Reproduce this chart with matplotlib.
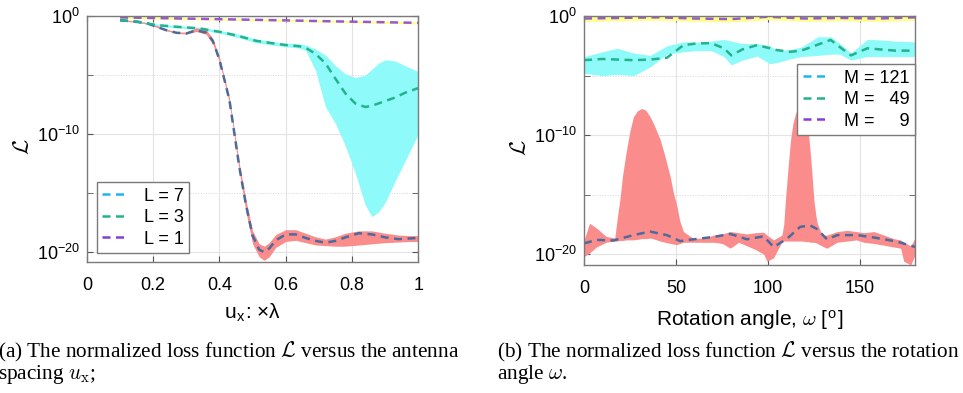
import numpy as np
import matplotlib
matplotlib.use('Agg')
import matplotlib.pyplot as plt
from matplotlib.lines import Line2D
from matplotlib.ticker import FixedLocator, FixedFormatter, NullFormatter

plt.rcParams['font.family'] = ['Liberation Sans', 'DejaVu Sans']
plt.rcParams['mathtext.fontset'] = 'cm'

# ---- (a) loss vs antenna spacing, values are log10(L)
u_L1 = [0.10, 0.20, 0.30, 0.40, 0.50, 0.60, 0.70, 0.80, 0.90, 1.00]
L1_med = [-0.11, -0.16, -0.21, -0.26, -0.31, -0.36, -0.42, -0.47, -0.52, -0.57]
L1_up = [-0.02, -0.06, -0.11, -0.16, -0.21, -0.26, -0.32, -0.37, -0.42, -0.47]
L1_lo = [-0.20, -0.25, -0.30, -0.35, -0.40, -0.45, -0.51, -0.56, -0.61, -0.66]

u_L3 = [0.10, 0.15, 0.21, 0.27, 0.34, 0.41, 0.46, 0.51, 0.56, 0.60, 0.64, 0.66, 0.69,
        0.72, 0.75, 0.78, 0.81, 0.84, 0.86, 0.88, 0.90, 0.93, 0.96, 1.00]
L3_med = [-0.35, -0.45, -0.76, -0.90, -1.04, -1.38, -1.70, -2.09, -2.30, -2.45, -2.55, -2.68, -3.20,
          -4.00, -5.30, -6.55, -7.40, -7.70, -7.60, -7.40, -7.20, -6.90, -6.50, -6.10]
L3_up = [-0.30, -0.38, -0.66, -0.80, -0.95, -1.25, -1.55, -1.95, -2.15, -2.30, -2.35, -2.45, -2.80,
         -3.30, -4.20, -4.90, -5.20, -5.00, -4.50, -4.00, -3.70, -3.80, -4.20, -4.70]
L3_lo = [-0.40, -0.52, -0.86, -1.00, -1.14, -1.50, -1.85, -2.25, -2.45, -2.60, -2.70, -2.90, -4.60,
         -7.70, -9.10, -11.0, -13.3, -16.0, -17.0, -16.6, -15.8, -14.0, -12.3, -10.0]

u_L7 = [0.10, 0.14, 0.18, 0.21, 0.24, 0.27, 0.30, 0.33, 0.36, 0.38, 0.40, 0.43, 0.46, 0.48, 0.50, 0.52,
        0.535, 0.55, 0.57, 0.60, 0.63, 0.66, 0.69, 0.72, 0.75, 0.78, 0.82, 0.86, 0.90, 0.94, 0.97, 1.00]
L7_med = [-0.35, -0.45, -0.60, -0.90, -1.20, -1.41, -1.47, -1.20, -1.40, -2.10, -3.70, -7.10, -12.8, -16.0,
          -18.6, -19.8, -20.0, -19.7, -19.0, -18.5, -18.5, -18.8, -19.05, -19.2, -19.05, -18.75, -18.4,
          -18.5, -18.75, -18.9, -18.85, -18.8]
L7_up = [-0.30, -0.40, -0.55, -0.80, -1.10, -1.35, -1.35, -1.00, -1.15, -1.90, -3.50, -6.90, -12.5, -15.6,
         -18.2, -19.3, -19.5, -19.2, -18.5, -18.1, -18.1, -18.4, -18.7, -18.9, -18.7, -18.4, -18.2,
         -18.2, -18.4, -18.55, -18.6, -18.6]
L7_lo = [-0.40, -0.50, -0.65, -0.95, -1.25, -1.45, -1.52, -1.30, -1.55, -2.40, -3.90, -7.40, -13.2, -16.6,
         -19.3, -20.4, -20.7, -20.4, -19.6, -19.1, -19.0, -19.2, -19.4, -19.45, -19.5, -19.5, -19.4,
         -19.3, -19.2, -19.15, -19.1, -19.1]

# ---- (b) loss vs rotation angle
w_M9 = [0, 20, 40, 60, 80, 100, 120, 140, 160, 180]
M9_med = [-0.20, -0.15, -0.10, -0.20, -0.25, -0.05, -0.20, -0.15, -0.20, -0.10]
M9_up = [0.0, 0.0, 0.0, 0.0, -0.05, 0.0, 0.0, 0.0, 0.0, 0.0]
M9_lo = [-0.45, -0.40, -0.35, -0.45, -0.50, -0.30, -0.45, -0.40, -0.45, -0.35]

w_M49 = [0, 10, 18, 27, 36, 45, 54, 61, 69, 76, 80, 86, 94, 101, 105, 112, 118, 127, 134,
         139, 145, 154, 161, 169, 180]
M49_med = [-3.70, -3.60, -3.65, -3.70, -3.65, -3.50, -2.44, -2.30, -2.27, -2.70, -3.30, -2.80, -2.44,
           -2.70, -2.86, -3.00, -2.90, -2.40, -2.00, -2.60, -3.30, -2.70, -2.80, -2.90, -2.90]
M49_up = [-3.40, -3.00, -2.70, -3.10, -3.30, -2.50, -2.16, -2.20, -2.10, -1.96, -2.10, -2.30, -2.30,
          -2.50, -2.90, -2.80, -2.60, -1.74, -1.74, -2.30, -3.10, -1.96, -2.00, -2.10, -2.16]
M49_lo = [-4.80, -5.00, -4.90, -5.00, -4.26, -3.20, -3.00, -2.90, -2.90, -3.40, -4.10, -3.70, -3.36,
          -4.00, -3.90, -3.60, -3.40, -3.30, -3.20, -3.20, -3.70, -3.40, -3.40, -3.40, -3.40]

w_M121 = [0, 6.7, 15.9, 26.8, 35.9, 45, 52.2, 59.5, 70.4, 79.5, 88.5, 97.6, 103, 110.3, 117.5,
          123, 126.7, 132, 137.5, 148.4, 157.5, 170.2, 180]
M121_med = [-19.1, -18.8, -18.85, -18.4, -18.1, -18.4, -18.9, -18.75, -18.55, -18.3, -18.75, -18.5,
            -19.4, -18.7, -17.7, -17.6, -17.9, -18.75, -18.4, -18.4, -18.6, -18.95, -19.4]
w_M121b = [0, 3, 6.7, 12, 16.7, 18, 19.4, 21, 23, 25, 26.8, 29, 31.3, 33.5, 35.9, 38.5, 41.4, 44,
           46.8, 48.5, 50.5, 52, 54, 59.5, 66, 70.4, 75, 79.5, 84, 88.5, 93, 97.6, 99.4, 103, 107.5,
           108.5, 109.4, 110.8, 112.2, 113.5, 114.9, 116.2, 117.3, 118.8, 120.4, 121.8, 123.1, 124,
           124.9, 126, 126.7, 128.5, 130.4, 132, 137.5, 143, 148, 152, 157.5, 164.8, 168.4, 172,
           173.7, 177.5, 180]
M121_up = [-18.8, -17.4, -17.8, -18.5, -18.65, -17.0, -15.5, -13.3, -11.3, -9.6, -8.46, -7.95, -7.76,
           -7.9, -8.46, -9.3, -10.4, -11.8, -13.5, -14.8, -16.0, -17.2, -18.1, -18.7, -18.6, -18.4,
           -18.3, -18.1, -18.2, -18.3, -18.2, -18.15, -18.4, -18.8, -18.4, -17.5, -15.5, -12.8, -10.4,
           -9.0, -8.2, -7.7, -7.56, -7.8, -8.2, -9.6, -11.8, -13.6, -15.5, -16.8, -17.4, -18.1, -18.4,
           -18.4, -18.1, -18.0, -18.1, -18.2, -18.1, -18.5, -18.7, -18.8, -19.0, -19.3, -18.6]
M121_lo = [-20.2, -19.9, -19.4, -19.0, -18.9, -18.9, -18.85, -18.85, -18.8, -18.8, -18.8, -18.75, -18.7,
           -18.7, -18.65, -18.75, -18.9, -19.0, -19.1, -19.15, -19.2, -19.1, -19.0, -19.0, -19.0, -19.0,
           -19.1, -19.5, -19.0, -19.3, -19.6, -20.0, -20.6, -20.3, -18.95, -18.9, -18.9, -18.9, -18.9,
           -18.9, -18.9, -18.9, -18.9, -18.9, -18.95, -18.95, -19.0, -19.0, -19.0, -19.05, -19.1,
           -19.25, -19.4, -19.5, -19.0, -18.9, -18.8, -19.0, -19.1, -19.3, -19.4, -19.5, -20.6, -20.9,
           -20.0]

labels_a = ['L = 7', 'L = 3', 'L = 1']
labels_b = ['M = 121', 'M =   49', 'M =     9']

c_red, c_cyan, c_yel = '#fb8c8c', '#8ffafa', '#ffff8c'
c_blue_line, c_blue_leg = '#4d6a9c', '#1fb5f0'
c_green, c_purple = '#22b38a', '#8a3ad8'
fs = 13
fs_lab = 15
dash = (3.2, 2.2)


def p(v):
    return 10.0 ** np.asarray(v)


def style(ax, xlim, ylow, xticks, xticklabels):
    ax.set_yscale('log')
    ax.set_xlim(*xlim)
    ax.set_ylim(10.0 ** ylow, 1.0)
    ax.yaxis.set_major_locator(FixedLocator([1e-20, 1e-10, 1e0]))
    ax.yaxis.set_major_formatter(FixedFormatter([r'$\mathregular{10^{-20}}$',
                                                 r'$\mathregular{10^{-10}}$',
                                                 r'$\mathregular{10^{0}}$']))
    ax.yaxis.set_minor_locator(FixedLocator([1e-15, 1e-5]))
    ax.yaxis.set_minor_formatter(NullFormatter())
    ax.set_xticks(xticks)
    ax.set_xticklabels(xticklabels)
    ax.grid(True, which='major', color='#e3e3e3', lw=0.8)
    ax.grid(True, which='minor', axis='y', color='#d8d8d8', lw=0.7, ls=':')
    ax.set_axisbelow(True)
    ax.tick_params(which='both', direction='in', length=4, color='#555555',
                   labelsize=fs, top=True, right=True)
    ax.tick_params(axis='x', pad=11)
    ax.tick_params(axis='y', pad=5)
    for s in ax.spines.values():
        s.set_color('#7a7a7a')
        s.set_linewidth(1.0)


fig = plt.figure(figsize=(9.63, 3.93), dpi=100)
ax1 = fig.add_axes([0.0903, 0.333, 0.344, 0.626])
ax2 = fig.add_axes([0.6065, 0.326, 0.344, 0.633])

# (a)
ax1.fill_between(u_L1, p(L1_lo), p(L1_up), color=c_yel, lw=0)
ax1.fill_between(u_L3, p(L3_lo), p(L3_up), color=c_cyan, lw=0)
ax1.fill_between(u_L7, p(L7_lo), p(L7_up), color=c_red, lw=0)
ax1.plot(u_L7, p(L7_med), color=c_blue_line, lw=1.8, dashes=dash)
ax1.plot(u_L3, p(L3_med), color=c_green, lw=1.8, dashes=dash)
ax1.plot(u_L1, p(L1_med), color=c_purple, lw=1.8, dashes=dash, alpha=0.85)
style(ax1, (0, 1), -20.85, [0, 0.2, 0.4, 0.6, 0.8, 1], ['0', '0.2', '0.4', '0.6', '0.8', '1'])
ax1.set_xlabel('u$_\\mathregular{x}$: ×λ', fontsize=fs_lab)
ax1.xaxis.set_label_coords(0.5, -0.16)
ax1.set_ylabel(r'$\mathcal{L}$', fontsize=fs + 3)
ax1.yaxis.set_label_coords(-0.16, 0.47)

# (b)
ax2.fill_between(w_M9, p(M9_lo), p(M9_up), color=c_yel, lw=0)
ax2.fill_between(w_M49, p(M49_lo), p(M49_up), color=c_cyan, lw=0)
ax2.fill_between(w_M121b, p(M121_lo), p(M121_up), color=c_red, lw=0)
ax2.plot(w_M121, p(M121_med), color=c_blue_line, lw=1.8, dashes=dash)
ax2.plot(w_M49, p(M49_med), color=c_green, lw=1.8, dashes=dash)
ax2.plot(w_M9, p(M9_med), color=c_purple, lw=1.8, dashes=dash, alpha=0.85)
style(ax2, (0, 180), -20.9, [0, 50, 100, 150], ['0', '50', '100', '150'])
ax2.set_xlabel(r'Rotation angle, $\omega$ [$^\mathregular{o}$]', fontsize=fs_lab)
ax2.xaxis.set_label_coords(0.5, -0.175)
ax2.set_ylabel(r'$\mathcal{L}$', fontsize=fs + 3)
ax2.yaxis.set_label_coords(-0.16, 0.47)

leg_cols = [c_blue_leg, c_green, c_purple]
for ax, labs, loc, anchor in [(ax1, labels_a, 'lower left', (0.03, 0.037)),
                              (ax2, labels_b, 'upper right', (1.0, 0.807))]:
    hs = [Line2D([], [], color=c, lw=1.8, dashes=dash) for c in leg_cols]
    lg = ax.legend(hs, labs, loc=loc, bbox_to_anchor=anchor, fontsize=fs, frameon=True,
                   fancybox=False, edgecolor='#7a7a7a', framealpha=1, borderaxespad=0,
                   handlelength=1.4, handletextpad=0.9, labelspacing=0.25, borderpad=0.3)
    lg.get_frame().set_linewidth(1.0)

serif = ['Liberation Serif', 'DejaVu Serif']
cap = 15.3
fig.text(-0.002, 0.104, r'(a) The normalized loss function $\mathcal{L}$ versus the antenna',
         fontsize=cap, family=serif, va='center')
fig.text(-0.002, 0.048, r'spacing $u_\mathrm{x}$;', fontsize=cap, family=serif, va='center')
fig.text(0.516, 0.104, r'(b) The normalized loss function $\mathcal{L}$ versus the rotation',
         fontsize=cap, family=serif, va='center')
fig.text(0.516, 0.048, r'angle $\omega$.', fontsize=cap, family=serif, va='center')

fig.savefig('out.png', dpi=100)
